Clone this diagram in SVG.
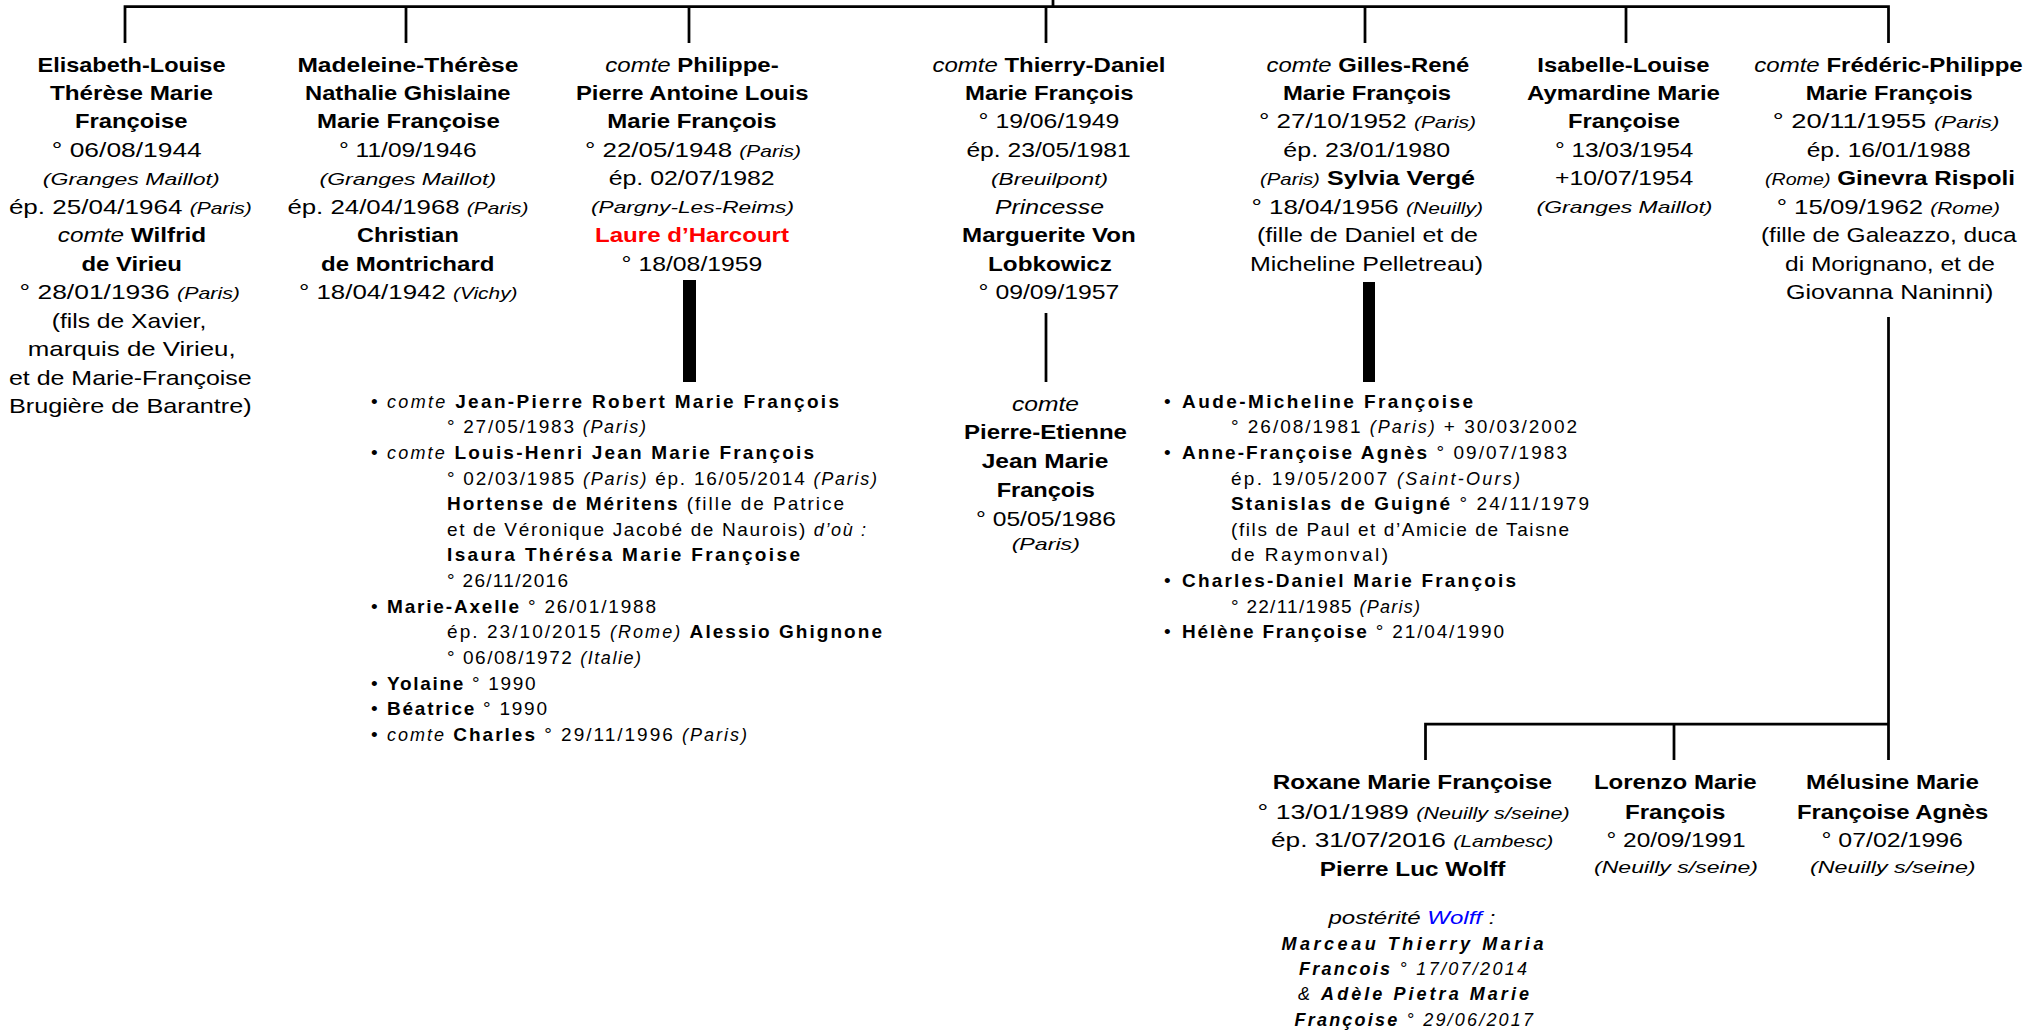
<svg xmlns="http://www.w3.org/2000/svg" width="2043" height="1031" viewBox="0 0 2043 1031">
<style>
text{font-family:"Liberation Sans",Arial,sans-serif;font-size:21px;fill:#000}
.c{text-anchor:middle}
.b{font-weight:bold}
.i{font-style:italic}
.s{font-size:17px;font-style:italic}
.l{font-size:19px}
.li{font-size:18px;font-style:italic}
.red{fill:#f00}
.blue{fill:#00f}
.ln{stroke:#000;stroke-width:2.75;fill:none}
.bar{fill:#000}
</style>
<rect width="2043" height="1031" fill="#fff"/>
<g id="connectors">
<path class="ln" d="M125,43 V6.5 H1888.5 V43 M1053,0 V6.5 M406,6.5 V43 M689,6.5 V43 M1046,6.5 V43 M1365,6.5 V43 M1626,6.5 V43"/>
<rect class="bar" x="683" y="280" width="13" height="102"/>
<rect class="bar" x="1363" y="282" width="12" height="100"/>
<path class="ln" d="M1046,313 V382"/>
<path class="ln" d="M1888.5,317 V760 M1425.5,760 V724 H1888.5 M1674,724 V760"/>
</g>
<g id="p-elisabeth">
<text class="c b" x="131.5" y="71.5" textLength="188" lengthAdjust="spacingAndGlyphs">Elisabeth-Louise</text>
<text class="c b" x="131.5" y="100" textLength="163" lengthAdjust="spacingAndGlyphs">Thérèse Marie</text>
<text class="c b" x="131.2" y="128.4" textLength="112.4" lengthAdjust="spacingAndGlyphs">Françoise</text>
<text class="c" x="126.8" y="156.9" textLength="150" lengthAdjust="spacingAndGlyphs">° 06/08/1944</text>
<text class="c s" x="131.2" y="184.5" textLength="176.8" lengthAdjust="spacingAndGlyphs">(Granges Maillot)</text>
<text class="c" x="130.3" y="213.8" textLength="242.8" lengthAdjust="spacingAndGlyphs">ép. 25/04/1964 <tspan class="s">(Paris)</tspan></text>
<text class="c" x="132" y="242.2" textLength="148.5" lengthAdjust="spacingAndGlyphs"><tspan class="i">comte</tspan> <tspan class="b">Wilfrid</tspan></text>
<text class="c b" x="131.7" y="270.7" textLength="100.6" lengthAdjust="spacingAndGlyphs">de Virieu</text>
<text class="c" x="129.8" y="299.1" textLength="220.4" lengthAdjust="spacingAndGlyphs">° 28/01/1936 <tspan class="s">(Paris)</tspan></text>
<text class="c" x="129" y="327.6" textLength="154.5" lengthAdjust="spacingAndGlyphs">(fils de Xavier,</text>
<text class="c" x="131.7" y="356" textLength="207.8" lengthAdjust="spacingAndGlyphs">marquis de Virieu,</text>
<text class="c" x="130.3" y="384.5" textLength="242.8" lengthAdjust="spacingAndGlyphs">et de Marie-Françoise</text>
<text class="c" x="130.3" y="412.9" textLength="242.8" lengthAdjust="spacingAndGlyphs">Brugière de Barantre)</text>
</g>
<g id="p-madeleine">
<text class="c b" x="407.9" y="71.5" textLength="221" lengthAdjust="spacingAndGlyphs">Madeleine-Thérèse</text>
<text class="c b" x="407.8" y="100" textLength="205.5" lengthAdjust="spacingAndGlyphs">Nathalie Ghislaine</text>
<text class="c b" x="408.4" y="128.4" textLength="182.8" lengthAdjust="spacingAndGlyphs">Marie Françoise</text>
<text class="c" x="407.8" y="156.9" textLength="137.6" lengthAdjust="spacingAndGlyphs">° 11/09/1946</text>
<text class="c s" x="407.8" y="184.5" textLength="176.5" lengthAdjust="spacingAndGlyphs">(Granges Maillot)</text>
<text class="c" x="407.9" y="213.8" textLength="241" lengthAdjust="spacingAndGlyphs">ép. 24/04/1968 <tspan class="s">(Paris)</tspan></text>
<text class="c b" x="407.9" y="242.2" textLength="101.7" lengthAdjust="spacingAndGlyphs">Christian</text>
<text class="c b" x="407.7" y="270.7" textLength="173.4" lengthAdjust="spacingAndGlyphs">de Montrichard</text>
<text class="c" x="408.3" y="299.1" textLength="218.6" lengthAdjust="spacingAndGlyphs">° 18/04/1942 <tspan class="s">(Vichy)</tspan></text>
</g>
<g id="p-philippe">
<text class="c" x="692" y="71.5" textLength="173.4" lengthAdjust="spacingAndGlyphs"><tspan class="i">comte</tspan> <tspan class="b">Philippe-</tspan></text>
<text class="c b" x="692.2" y="100" textLength="232.6" lengthAdjust="spacingAndGlyphs">Pierre Antoine Louis</text>
<text class="c b" x="692" y="128.4" textLength="169.3" lengthAdjust="spacingAndGlyphs">Marie François</text>
<text class="c" x="693" y="156.9" textLength="216" lengthAdjust="spacingAndGlyphs">° 22/05/1948 <tspan class="s">(Paris)</tspan></text>
<text class="c" x="691.7" y="185.3" textLength="166" lengthAdjust="spacingAndGlyphs">ép. 02/07/1982</text>
<text class="c s" x="692.5" y="213" textLength="203" lengthAdjust="spacingAndGlyphs">(Pargny-Les-Reims)</text>
<text class="c b red" x="692" y="242.2" textLength="194" lengthAdjust="spacingAndGlyphs">Laure d’Harcourt</text>
<text class="c" x="692" y="270.7" textLength="140.8" lengthAdjust="spacingAndGlyphs">° 18/08/1959</text>
</g>
<g id="p-philippe-children">
<text class="l" x="371" y="407.5">•</text>
<text class="l" x="387" y="407.5" textLength="452" lengthAdjust="spacing"><tspan class="li">comte</tspan> <tspan class="b">Jean-Pierre Robert Marie François</tspan></text>
<text class="l" x="447" y="433.2" textLength="199" lengthAdjust="spacing">° 27/05/1983 <tspan class="li">(Paris)</tspan></text>
<text class="l" x="371" y="458.8">•</text>
<text class="l" x="387" y="458.8" textLength="427" lengthAdjust="spacing"><tspan class="li">comte</tspan> <tspan class="b">Louis-Henri Jean Marie François</tspan></text>
<text class="l" x="447" y="484.5" textLength="430" lengthAdjust="spacing">° 02/03/1985 <tspan class="li">(Paris)</tspan> ép. 16/05/2014 <tspan class="li">(Paris)</tspan></text>
<text class="l" x="447" y="510.1" textLength="397" lengthAdjust="spacing"><tspan class="b">Hortense de Méritens</tspan> (fille de Patrice</text>
<text class="l" x="447" y="535.8" textLength="419" lengthAdjust="spacing">et de Véronique Jacobé de Naurois) <tspan class="li">d’où :</tspan></text>
<text class="l b" x="447" y="561.4" textLength="353" lengthAdjust="spacing">Isaura Thérésa Marie Françoise</text>
<text class="l" x="447" y="587.1" textLength="121" lengthAdjust="spacing">° 26/11/2016</text>
<text class="l" x="371" y="612.7">•</text>
<text class="l" x="387" y="612.7" textLength="269" lengthAdjust="spacing"><tspan class="b">Marie-Axelle</tspan> ° 26/01/1988</text>
<text class="l" x="447" y="638.4" textLength="435" lengthAdjust="spacing">ép. 23/10/2015 <tspan class="li">(Rome)</tspan> <tspan class="b">Alessio Ghignone</tspan></text>
<text class="l" x="447" y="664" textLength="194" lengthAdjust="spacing">° 06/08/1972 <tspan class="li">(Italie)</tspan></text>
<text class="l" x="371" y="689.7">•</text>
<text class="l" x="387" y="689.7" textLength="148.6" lengthAdjust="spacing"><tspan class="b">Yolaine</tspan> ° 1990</text>
<text class="l" x="371" y="715.3">•</text>
<text class="l" x="387" y="715.3" textLength="160" lengthAdjust="spacing"><tspan class="b">Béatrice</tspan> ° 1990</text>
<text class="l" x="371" y="741">•</text>
<text class="l" x="387" y="741" textLength="360" lengthAdjust="spacing"><tspan class="li">comte</tspan> <tspan class="b">Charles</tspan> ° 29/11/1996 <tspan class="li">(Paris)</tspan></text>
</g>
<g id="p-thierry">
<text class="c" x="1049" y="71.5" textLength="233" lengthAdjust="spacingAndGlyphs"><tspan class="i">comte</tspan> <tspan class="b">Thierry-Daniel</tspan></text>
<text class="c b" x="1049.3" y="100" textLength="168.6" lengthAdjust="spacingAndGlyphs">Marie François</text>
<text class="c" x="1049" y="128.4" textLength="140.8" lengthAdjust="spacingAndGlyphs">° 19/06/1949</text>
<text class="c" x="1048.6" y="156.9" textLength="164.4" lengthAdjust="spacingAndGlyphs">ép. 23/05/1981</text>
<text class="c s" x="1049.5" y="184.5" textLength="117" lengthAdjust="spacingAndGlyphs">(Breuilpont)</text>
<text class="c i" x="1049.5" y="213.8" textLength="109" lengthAdjust="spacingAndGlyphs">Princesse</text>
<text class="c b" x="1048.9" y="242.2" textLength="173.7" lengthAdjust="spacingAndGlyphs">Marguerite Von</text>
<text class="c b" x="1050" y="270.7" textLength="124" lengthAdjust="spacingAndGlyphs">Lobkowicz</text>
<text class="c" x="1049" y="299.1" textLength="140.8" lengthAdjust="spacingAndGlyphs">° 09/09/1957</text>
</g>
<g id="p-pierre-etienne">
<text class="c i" x="1045.5" y="410.5" textLength="67" lengthAdjust="spacingAndGlyphs">comte</text>
<text class="c b" x="1045.5" y="439.3" textLength="163" lengthAdjust="spacingAndGlyphs">Pierre-Etienne</text>
<text class="c b" x="1045" y="468" textLength="126.6" lengthAdjust="spacingAndGlyphs">Jean Marie</text>
<text class="c b" x="1045.8" y="496.8" textLength="98.3" lengthAdjust="spacingAndGlyphs">François</text>
<text class="c" x="1046" y="525.5" textLength="140" lengthAdjust="spacingAndGlyphs">° 05/05/1986</text>
<text class="c s" x="1045.8" y="550" textLength="68.3" lengthAdjust="spacingAndGlyphs">(Paris)</text>
</g>
<g id="p-gilles">
<text class="c" x="1368" y="71.5" textLength="202.8" lengthAdjust="spacingAndGlyphs"><tspan class="i">comte</tspan> <tspan class="b">Gilles-René</tspan></text>
<text class="c b" x="1367" y="100" textLength="168.2" lengthAdjust="spacingAndGlyphs">Marie François</text>
<text class="c" x="1367.5" y="128.4" textLength="217" lengthAdjust="spacingAndGlyphs">° 27/10/1952 <tspan class="s">(Paris)</tspan></text>
<text class="c" x="1366.7" y="156.9" textLength="166.7" lengthAdjust="spacingAndGlyphs">ép. 23/01/1980</text>
<text class="c" x="1367.5" y="185.3" textLength="215" lengthAdjust="spacingAndGlyphs"><tspan class="s">(Paris)</tspan> <tspan class="b">Sylvia Vergé</tspan></text>
<text class="c" x="1367.2" y="213.8" textLength="231.6" lengthAdjust="spacingAndGlyphs">° 18/04/1956 <tspan class="s">(Neuilly)</tspan></text>
<text class="c" x="1367.5" y="242.2" textLength="221" lengthAdjust="spacingAndGlyphs">(fille de Daniel et de</text>
<text class="c" x="1366.5" y="270.7" textLength="233" lengthAdjust="spacingAndGlyphs">Micheline Pelletreau)</text>
</g>
<g id="p-gilles-children">
<text class="l" x="1164" y="407.5">•</text>
<text class="l b" x="1182" y="407.5" textLength="291" lengthAdjust="spacing">Aude-Micheline Françoise</text>
<text class="l" x="1231" y="433.2" textLength="346" lengthAdjust="spacing">° 26/08/1981 <tspan class="li">(Paris)</tspan> + 30/03/2002</text>
<text class="l" x="1164" y="458.8">•</text>
<text class="l" x="1182" y="458.8" textLength="385" lengthAdjust="spacing"><tspan class="b">Anne-Françoise Agnès</tspan> ° 09/07/1983</text>
<text class="l" x="1231" y="484.5" textLength="289" lengthAdjust="spacing">ép. 19/05/2007 <tspan class="li">(Saint-Ours)</tspan></text>
<text class="l" x="1231" y="510.1" textLength="358" lengthAdjust="spacing"><tspan class="b">Stanislas de Guigné</tspan> ° 24/11/1979</text>
<text class="l" x="1231" y="535.8" textLength="338" lengthAdjust="spacing">(fils de Paul et d’Amicie de Taisne</text>
<text class="l" x="1231" y="561.4" textLength="157" lengthAdjust="spacing">de Raymonval)</text>
<text class="l" x="1164" y="587.1">•</text>
<text class="l b" x="1182" y="587.1" textLength="334" lengthAdjust="spacing">Charles-Daniel Marie François</text>
<text class="l" x="1231" y="612.7" textLength="189" lengthAdjust="spacing">° 22/11/1985 <tspan class="li">(Paris)</tspan></text>
<text class="l" x="1164" y="638.4">•</text>
<text class="l" x="1182" y="638.4" textLength="322" lengthAdjust="spacing"><tspan class="b">Hélène Françoise</tspan> ° 21/04/1990</text>
</g>
<g id="p-isabelle">
<text class="c b" x="1623.4" y="71.5" textLength="172.2" lengthAdjust="spacingAndGlyphs">Isabelle-Louise</text>
<text class="c b" x="1623.5" y="100" textLength="193" lengthAdjust="spacingAndGlyphs">Aymardine Marie</text>
<text class="c b" x="1624" y="128.4" textLength="112" lengthAdjust="spacingAndGlyphs">Françoise</text>
<text class="c" x="1624.2" y="156.9" textLength="138.4" lengthAdjust="spacingAndGlyphs">° 13/03/1954</text>
<text class="c" x="1624.2" y="185.3" textLength="138.4" lengthAdjust="spacingAndGlyphs">+10/07/1954</text>
<text class="c s" x="1624.5" y="213" textLength="176" lengthAdjust="spacingAndGlyphs">(Granges Maillot)</text>
</g>
<g id="p-frederic">
<text class="c" x="1888.5" y="71.5" textLength="268.4" lengthAdjust="spacingAndGlyphs"><tspan class="i">comte</tspan> <tspan class="b">Frédéric-Philippe</tspan></text>
<text class="c b" x="1889.2" y="100" textLength="167" lengthAdjust="spacingAndGlyphs">Marie François</text>
<text class="c" x="1886" y="128.4" textLength="226.6" lengthAdjust="spacingAndGlyphs">° 20/11/1955 <tspan class="s">(Paris)</tspan></text>
<text class="c" x="1888.7" y="156.9" textLength="164" lengthAdjust="spacingAndGlyphs">ép. 16/01/1988</text>
<text class="c" x="1890" y="185.3" textLength="250" lengthAdjust="spacingAndGlyphs"><tspan class="s">(Rome)</tspan> <tspan class="b">Ginevra Rispoli</tspan></text>
<text class="c" x="1888.3" y="213.8" textLength="223.3" lengthAdjust="spacingAndGlyphs">° 15/09/1962 <tspan class="s">(Rome)</tspan></text>
<text class="c" x="1888.8" y="242.2" textLength="255.7" lengthAdjust="spacingAndGlyphs">(fille de Galeazzo, duca</text>
<text class="c" x="1890" y="270.7" textLength="210" lengthAdjust="spacingAndGlyphs">di Morignano, et de</text>
<text class="c" x="1889.7" y="299.1" textLength="207.3" lengthAdjust="spacingAndGlyphs">Giovanna Naninni)</text>
</g>
<g id="p-roxane">
<text class="c b" x="1412.4" y="789" textLength="279.2" lengthAdjust="spacingAndGlyphs">Roxane Marie Françoise</text>
<text class="c" x="1413.6" y="818.5" textLength="312" lengthAdjust="spacingAndGlyphs">° 13/01/1989 <tspan class="s">(Neuilly s/seine)</tspan></text>
<text class="c" x="1412.2" y="847.3" textLength="282.4" lengthAdjust="spacingAndGlyphs">ép. 31/07/2016 <tspan class="s">(Lambesc)</tspan></text>
<text class="c b" x="1412.6" y="876" textLength="185.6" lengthAdjust="spacingAndGlyphs">Pierre Luc Wolff</text>
<text class="c i" x="1411.9" y="923.5" textLength="167" lengthAdjust="spacingAndGlyphs" style="font-size:19px">postérité <tspan class="blue">Wolff</tspan> :</text>
<text class="c i b" x="1412.4" y="949.5" textLength="262" lengthAdjust="spacing" style="font-size:18px">Marceau Thierry Maria</text>
<text class="c i" x="1413" y="975" textLength="228" lengthAdjust="spacing" style="font-size:18px"><tspan class="b">Francois</tspan> ° 17/07/2014</text>
<text class="c i" x="1413.5" y="1000" textLength="231" lengthAdjust="spacing" style="font-size:18px">&amp; <tspan class="b">Adèle Pietra Marie</tspan></text>
<text class="c i" x="1413.8" y="1025.5" textLength="238.5" lengthAdjust="spacing" style="font-size:18px"><tspan class="b">Françoise</tspan> ° 29/06/2017</text>
</g>
<g id="p-lorenzo">
<text class="c b" x="1675.3" y="789" textLength="162.8" lengthAdjust="spacingAndGlyphs">Lorenzo Marie</text>
<text class="c b" x="1675.2" y="818.5" textLength="100.4" lengthAdjust="spacingAndGlyphs">François</text>
<text class="c" x="1676" y="847.3" textLength="139" lengthAdjust="spacingAndGlyphs">° 20/09/1991</text>
<text class="c s" x="1676" y="872.5" textLength="164" lengthAdjust="spacingAndGlyphs">(Neuilly s/seine)</text>
</g>
<g id="p-melusine">
<text class="c b" x="1892.5" y="789" textLength="173" lengthAdjust="spacingAndGlyphs">Mélusine Marie</text>
<text class="c b" x="1892.6" y="818.5" textLength="191.3" lengthAdjust="spacingAndGlyphs">Françoise Agnès</text>
<text class="c" x="1892.2" y="847.3" textLength="141.6" lengthAdjust="spacingAndGlyphs">° 07/02/1996</text>
<text class="c s" x="1892.8" y="872.5" textLength="165.7" lengthAdjust="spacingAndGlyphs">(Neuilly s/seine)</text>
</g>
</svg>
